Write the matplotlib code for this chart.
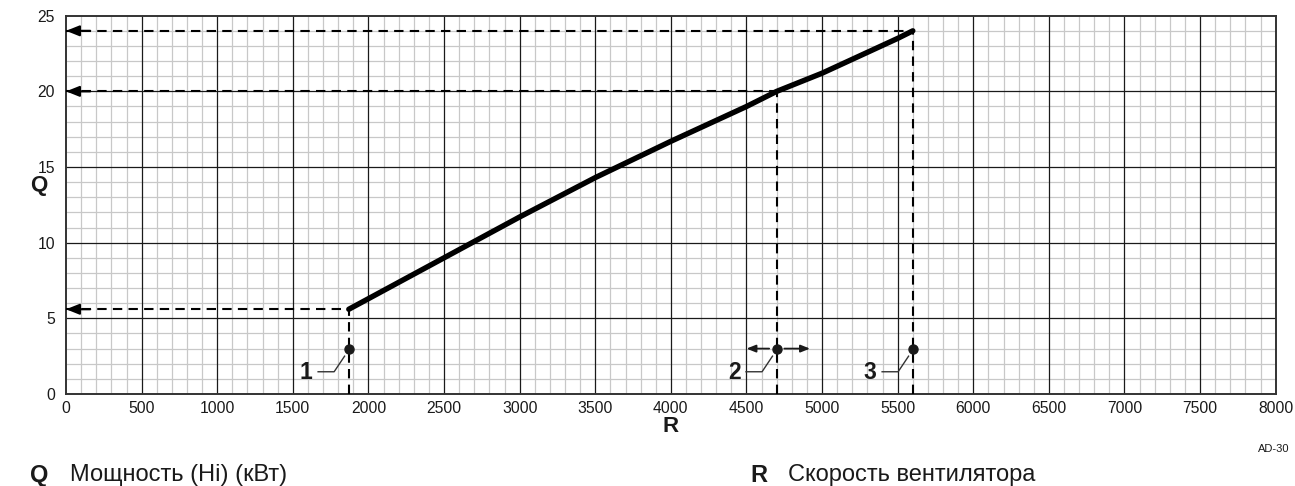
import matplotlib
matplotlib.use("Agg")
import matplotlib.pyplot as plt
from matplotlib.ticker import MultipleLocator

plt.rcParams['font.family'] = ['Liberation Sans', 'DejaVu Sans']

# fan speed (rpm) vs. heat input Q (kW)
fan_speed = [1870, 2000, 2500, 3000, 3500, 4000, 4500, 4700, 5000, 5500, 5600]
power = [5.6, 6.3, 9.0, 11.7, 14.3, 16.7, 19.0, 20.0, 21.2, 23.5, 24.0]

# reference points: 1 = min, 2 = start, 3 = max
ref_labels = ['1', '2', '3']
ref_speed = [1870, 4700, 5600]
ref_power = [5.6, 20.0, 24.0]
marker_level = 3.0
start_range = [4500, 4920]

x_ticks = list(range(0, 8001, 500))
y_ticks = [0, 5, 10, 15, 20, 25]

fig = plt.figure(figsize=(12.95, 4.86), dpi=100)
ax = fig.add_axes([0.0510, 0.1893, 0.9341, 0.7784])

ax.set_xlim(0, 8000)
ax.set_ylim(0, 25)
ax.set_xticks(x_ticks)
ax.set_yticks(y_ticks)
ax.xaxis.set_minor_locator(MultipleLocator(100))
ax.yaxis.set_minor_locator(MultipleLocator(1))
# fine grid from the axis, coarse grid drawn on top of it
ax.grid(which='minor', color='#c8c8c8', lw=0.9)
ax.grid(which='major', visible=False)
ax.set_axisbelow(True)
for x in x_ticks[1:-1]:
    ax.axvline(x, color='#1a1a1a', lw=0.9, zorder=1)
for y in y_ticks[1:-1]:
    ax.axhline(y, color='#1a1a1a', lw=0.9, zorder=1)

ax.tick_params(which='both', length=0, labelsize=11.3, colors='#1a1a1a')
ax.tick_params(axis='x', pad=5)
ax.tick_params(axis='y', pad=8)
for s in ax.spines.values():
    s.set_color('#333333')
    s.set_linewidth(1.4)
    s.set_zorder(2)

ax.set_xlabel('R', fontsize=16, fontweight='bold', color='#1a1a1a')
ax.xaxis.set_label_coords(0.5, -0.058)
ax.set_ylabel('Q', fontsize=16, fontweight='bold', rotation=0, color='#1a1a1a',
              va='center', ha='center')
ax.yaxis.set_label_coords(-0.0223, 0.552)

dash = dict(color='black', lw=1.5, dashes=(4.5, 3), zorder=3)

# projection lines from the curve to both axes
for r, q in zip(ref_speed, ref_power):
    ax.plot([0, r], [q, q], **dash)
    ax.plot([r, r], [0, q], **dash)
    ax.annotate('', xy=(0, q), xytext=(160, q),
                arrowprops=dict(arrowstyle='-|>,head_length=0.8,head_width=0.32',
                                color='black', lw=1.5, shrinkA=0, shrinkB=0),
                zorder=4)

ax.plot(fan_speed, power, color='black', lw=3.9, solid_capstyle='round', zorder=5)

# markers with leader lines and numbers
for lab, r in zip(ref_labels, ref_speed):
    ax.plot(r, marker_level, 'o', color='#1a1a1a', ms=6.5, zorder=6)
    ax.plot([r - 203, r - 97, r - 28], [1.47, 1.47, 2.5], color='#333333',
            lw=1.0, zorder=6)
    ax.text(r - 240, 1.4, lab, ha='right', va='center', fontsize=16.5,
            fontweight='bold', color='#1a1a1a', zorder=6)

# adjustment range around point 2
for end in start_range:
    side = 1 if end > ref_speed[1] else -1
    ax.annotate('', xy=(end, marker_level),
                xytext=(ref_speed[1] + side * 50, marker_level),
                arrowprops=dict(arrowstyle='-|>,head_length=0.55,head_width=0.22',
                                color='#1a1a1a', lw=1.3, shrinkA=0, shrinkB=0),
                zorder=6)

fig.text(1258 / 1295, 1 - 449 / 486, 'AD-30', fontsize=8, va='center',
         color='#1a1a1a')
fig.text(30 / 1295, 1 - 475 / 486, 'Q', fontsize=17, fontweight='bold',
         va='center', color='#1a1a1a')
fig.text(70 / 1295, 1 - 475 / 486, 'Мощность (Hi) (кВт)', fontsize=17,
         va='center', color='#1a1a1a')
fig.text(750 / 1295, 1 - 475 / 486, 'R', fontsize=17, fontweight='bold',
         va='center', color='#1a1a1a')
fig.text(788 / 1295, 1 - 475 / 486, 'Скорость вентилятора', fontsize=17,
         va='center', color='#1a1a1a')

fig.savefig('out.png', dpi=100)
